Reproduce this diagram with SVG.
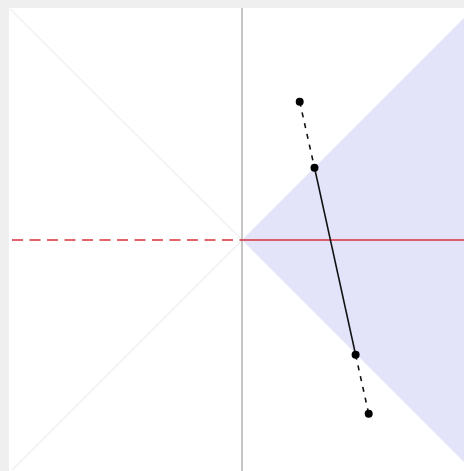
<svg xmlns="http://www.w3.org/2000/svg" width="464" height="471" viewBox="0 0 464 471">
<style>
.pt{fill:#000}
.seg{stroke:#111;stroke-width:1.6;fill:none}
.dash{stroke-dasharray:5 6}
</style>
<rect x="0" y="0" width="464" height="471" fill="#efefef"/>
<rect x="9" y="8" width="455" height="463" fill="#ffffff"/>
<g id="region">
<polygon points="242,240 464,18 464,462" fill="#e3e3fa"/>
</g>
<g id="guides" stroke="#f0f0f0" stroke-width="1.2">
<line x1="10" y1="9" x2="242" y2="240"/>
<line x1="242" y1="240" x2="12" y2="470"/>
</g>
<g id="axes">
<line x1="242" y1="8" x2="242" y2="471" stroke="#a8a8a8" stroke-width="1.3"/>
<line x1="12" y1="240" x2="242" y2="240" stroke="#d9303a" stroke-width="1.6" stroke-dasharray="11 6.5"/>
<line x1="242" y1="240" x2="464" y2="240" stroke="#d9303a" stroke-width="1.5"/>
</g>
<g id="connectors">
<line class="seg dash" x1="299.7" y1="101.7" x2="314.5" y2="167.7"/>
<line class="seg" x1="314.5" y1="167.7" x2="355.6" y2="354.7"/>
<line class="seg dash" x1="355.6" y1="354.7" x2="368.7" y2="413.7"/>
</g>
<g id="p1"><circle class="pt" cx="299.7" cy="101.7" r="4"/></g>
<g id="p2"><circle class="pt" cx="314.5" cy="167.7" r="4"/></g>
<g id="p3"><circle class="pt" cx="355.6" cy="354.7" r="4"/></g>
<g id="p4"><circle class="pt" cx="368.7" cy="413.7" r="4"/></g>
</svg>
